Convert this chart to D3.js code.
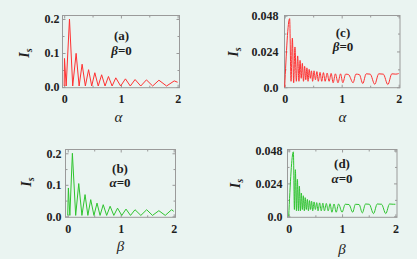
<!DOCTYPE html>
<html>
<head>
<meta charset="utf-8">
<script src="https://cdn.jsdelivr.net/npm/d3@7"></script>
<style>
  body { margin: 0; background: #eaf4f1; }
  svg { display: block; }
</style>
</head>
<body>
<div id="figure"></div>
<script>
// panel (a): I_s against alpha, beta = 0
const alphaA = [0, 0.005, 0.035, 0.093, 0.15, 0.21, 0.263, 0.316, 0.373, 0.43, 0.485, 0.54, 0.6, 0.66, 0.72, 0.78, 0.845, 0.91, 0.995, 1.08, 1.165, 1.25, 1.35, 1.45, 1.56, 1.67, 1.805, 1.94, 2.0];
const isA = [0.003, 0.084, 0.003, 0.2, 0.003, 0.099, 0.003, 0.067, 0.003, 0.051, 0.003, 0.042, 0.003, 0.036, 0.003, 0.031, 0.003, 0.027, 0.003, 0.024, 0.003, 0.022, 0.003, 0.021, 0.003, 0.02, 0.003, 0.018, 0.014];

// panel (b): I_s against beta, alpha = 0
const betaB = [0, 0.012, 0.04, 0.088, 0.15, 0.208, 0.268, 0.327, 0.38, 0.434, 0.495, 0.553, 0.61, 0.67, 0.735, 0.8, 0.87, 0.94, 1.02, 1.1, 1.185, 1.27, 1.38, 1.49, 1.6, 1.72, 1.84, 1.96, 2.0];
const isB = [0.003, 0.09, 0.003, 0.2, 0.003, 0.104, 0.003, 0.069, 0.003, 0.053, 0.003, 0.042, 0.003, 0.037, 0.003, 0.032, 0.003, 0.026, 0.003, 0.023, 0.003, 0.021, 0.003, 0.021, 0.003, 0.018, 0.003, 0.021, 0.016];

// panel (c): I_s against alpha, beta = 0
const alphaC = [0, 0.087, 0.112, 0.135, 0.158, 0.18, 0.205, 0.228, 0.25, 0.27, 0.29, 0.31, 0.33, 0.35, 0.37, 0.39, 0.41, 0.43, 0.45, 0.47, 0.49, 0.515, 0.54, 0.565, 0.59, 0.62, 0.65, 0.68, 0.71, 0.745, 0.78, 0.815, 0.85, 0.89, 0.935, 0.98, 1.02, 1.07, 1.12, 1.2, 1.25, 1.31, 1.37, 1.43, 1.5, 1.58, 1.65, 1.73, 1.81, 1.88, 1.95, 2.0];
const isC = [0, 0.046, 0.004, 0.033, 0.003, 0.027, 0.004, 0.021, 0.004, 0.018, 0.006, 0.016, 0.004, 0.014, 0.005, 0.013, 0.004, 0.012, 0.006, 0.011, 0.004, 0.011, 0.005, 0.0105, 0.004, 0.010, 0.004, 0.0098, 0.004, 0.0095, 0.004, 0.0093, 0.003, 0.009, 0.003, 0.009, 0.003, 0.0088, 0.0085, 0.003, 0.0088, 0.0085, 0.0025, 0.009, 0.0088, 0.002, 0.009, 0.0088, 0.0018, 0.009, 0.0088, 0.0092];

// panel (d): I_s against beta, alpha = 0
const betaD = [0, 0.0875, 0.107, 0.125, 0.145, 0.163, 0.182, 0.2, 0.219, 0.237, 0.256, 0.275, 0.293, 0.31, 0.33, 0.35, 0.37, 0.39, 0.41, 0.43, 0.45, 0.475, 0.5, 0.525, 0.55, 0.58, 0.61, 0.64, 0.67, 0.705, 0.74, 0.775, 0.81, 0.85, 0.89, 0.935, 1.0, 1.06, 1.13, 1.2, 1.25, 1.32, 1.38, 1.44, 1.51, 1.59, 1.66, 1.74, 1.82, 1.89, 1.96, 2.0];
const isD = [0, 0.047, 0.005, 0.034, 0.004, 0.027, 0.004, 0.022, 0.004, 0.017, 0.005, 0.015, 0.004, 0.0136, 0.005, 0.0124, 0.004, 0.0115, 0.005, 0.011, 0.004, 0.0105, 0.005, 0.010, 0.004, 0.0098, 0.004, 0.0096, 0.004, 0.0094, 0.004, 0.0092, 0.003, 0.009, 0.003, 0.009, 0.003, 0.0088, 0.0086, 0.003, 0.0088, 0.0086, 0.0025, 0.009, 0.0088, 0.002, 0.009, 0.0088, 0.002, 0.009, 0.0088, 0.0088];

// ticks and tick labels
const xTicks = [0, 1, 2];
const xTickLabels = ["0", "1", "2"];
const xMinor = [0.5, 1.5];
const yTicksAB = [0, 0.1, 0.2];
const yTickLabelsAB = ["0.0", "0.1", "0.2"];
const yMinorAB = [0.05, 0.15];
const yTicksCD = [0, 0.024, 0.048];
const yTickLabelsCD = ["0.0", "0.024", "0.048"];
const yMinorCD = [0.012, 0.036];

let svgWidth = 417;
let svgHeight = 259;
const serif = "Liberation Serif";

let svg = d3.select("#figure")
    .append("svg")
    .attr("width", svgWidth)
    .attr("height", svgHeight);

const red = "#ff3131";
const green = "#2fc42f";
const boxColor = "#9a9a9a";
const textColor = "#1e1e1e";

let panels = [
    { xs: alphaA, ys: isA, color: red, left: 62.5, top: 15.5, width: 117, height: 72.2,
      xDomain: [-0.03, 2.033], yDomain: [-0.002, 0.2103], yTicks: yTicksAB, yLabels: yTickLabelsAB, yMinor: yMinorAB,
      yPad: 3, curve: d3.curveLinear, label: "(a)", greek: "β", annX: 121.5, annY1: 39.5, annY2: 54.5,
      yLabX: 29, yLabY: 53, xName: "α", xNameX: 118.5, xNameY: 121.5 },
    { xs: betaB, ys: isB, color: green, left: 65.5, top: 149.5, width: 110, height: 67.8,
      xDomain: [-0.042, 2.034], yDomain: [-0.003, 0.212], yTicks: yTicksAB, yLabels: yTickLabelsAB, yMinor: yMinorAB,
      yPad: 4, curve: d3.curveLinear, label: "(b)", greek: "α", annX: 120, annY1: 172.5, annY2: 186.5,
      yLabX: 31, yLabY: 182, xName: "β", xNameX: 120.5, xNameY: 251 },
    { xs: alphaC, ys: isC, color: red, left: 284.5, top: 15.5, width: 115.5, height: 72.2,
      xDomain: [-0.003, 2.023], yDomain: [-0.0003, 0.0481], yTicks: yTicksCD, yLabels: yTickLabelsCD, yMinor: yMinorCD,
      yPad: 6, curve: d3.curveMonotoneX, label: "(c)", greek: "β", annX: 343, annY1: 37, annY2: 51,
      yLabX: 237.5, yLabY: 52, xName: "α", xNameX: 342.5, xNameY: 121.5 },
    { xs: betaD, ys: isD, color: green, left: 287.5, top: 149.5, width: 109.5, height: 67.8,
      xDomain: [-0.0225, 2.03], yDomain: [-0.0007, 0.0487], yTicks: yTicksCD, yLabels: yTickLabelsCD, yMinor: yMinorCD,
      yPad: 5, curve: d3.curveMonotoneX, label: "(d)", greek: "α", annX: 342, annY1: 168, annY2: 183,
      yLabX: 240, yLabY: 183.5, xName: "β", xNameX: 342, xNameY: 254 }
];

// one framed axis with inward ticks on all four sides
function drawPanel(p) {
    let x = d3.scaleLinear().domain(p.xDomain).range([0, p.width]);
    let y = d3.scaleLinear().domain(p.yDomain).range([p.height, 0]);

    let g = svg.append("g")
        .attr("transform", `translate(${p.left},${p.top})`);

    let styleAxis = a => {
        a.attr("font-family", serif).attr("font-size", 12).attr("font-weight", "bold").attr("color", boxColor);
        a.select(".domain").remove();
        a.selectAll("text").attr("fill", textColor);
    };

    // major ticks with labels
    g.append("g")
        .attr("transform", `translate(0,${p.height})`)
        .call(d3.axisBottom(x).tickValues(xTicks).tickFormat((d, i) => xTickLabels[i]).tickSize(-3).tickPadding(7))
        .call(styleAxis);
    g.append("g")
        .call(d3.axisLeft(y).tickValues(p.yTicks).tickFormat((d, i) => p.yLabels[i]).tickSize(-3).tickPadding(p.yPad))
        .call(styleAxis);
    // mirrored ticks, no labels
    g.append("g")
        .call(d3.axisTop(x).tickValues(xTicks).tickFormat("").tickSize(-3))
        .call(styleAxis);
    g.append("g")
        .attr("transform", `translate(${p.width},0)`)
        .call(d3.axisRight(y).tickValues(p.yTicks).tickFormat("").tickSize(-3))
        .call(styleAxis);
    // minor ticks
    g.append("g").attr("transform", `translate(0,${p.height})`)
        .call(d3.axisBottom(x).tickValues(xMinor).tickFormat("").tickSize(-2)).call(styleAxis);
    g.append("g")
        .call(d3.axisTop(x).tickValues(xMinor).tickFormat("").tickSize(-2)).call(styleAxis);
    g.append("g")
        .call(d3.axisLeft(y).tickValues(p.yMinor).tickFormat("").tickSize(-2)).call(styleAxis);
    g.append("g").attr("transform", `translate(${p.width},0)`)
        .call(d3.axisRight(y).tickValues(p.yMinor).tickFormat("").tickSize(-2)).call(styleAxis);

    // frame
    g.append("rect")
        .attr("width", p.width)
        .attr("height", p.height)
        .attr("fill", "none")
        .attr("stroke", boxColor)
        .attr("stroke-width", 1);

    // curve
    let line = d3.line()
        .x(d => x(d[0]))
        .y(d => y(d[1]))
        .curve(p.curve);
    g.append("path")
        .datum(d3.zip(p.xs, p.ys))
        .attr("d", line)
        .attr("fill", "none")
        .attr("stroke", p.color)
        .attr("stroke-width", 1);

    // panel annotation
    svg.append("text")
        .attr("x", p.annX).attr("y", p.annY1)
        .attr("text-anchor", "middle")
        .attr("font-family", serif).attr("font-weight", "bold")
        .attr("font-size", 13)
        .attr("fill", textColor)
        .text(p.label);
    let ann = svg.append("text")
        .attr("x", p.annX).attr("y", p.annY2)
        .attr("text-anchor", "middle")
        .attr("font-family", serif).attr("font-weight", "bold")
        .attr("font-size", 13)
        .attr("fill", textColor);
    ann.append("tspan").attr("font-style", "italic").text(p.greek);
    ann.append("tspan").text("=0");

    // y axis title I_s
    let yl = svg.append("text")
        .attr("transform", `translate(${p.yLabX},${p.yLabY}) rotate(-90)`)
        .attr("text-anchor", "middle")
        .attr("font-family", serif).attr("font-weight", "bold")
        .attr("font-style", "italic")
        .attr("font-size", 14)
        .attr("fill", textColor);
    yl.append("tspan").text("I");
    yl.append("tspan").attr("font-size", 10).attr("dy", 3).text("s");

    // x axis title
    svg.append("text")
        .attr("x", p.xNameX).attr("y", p.xNameY)
        .attr("text-anchor", "middle")
        .attr("font-family", serif)
        .attr("font-style", "italic")
        .attr("font-size", 15)
        .attr("fill", textColor)
        .text(p.xName);
}

panels.forEach(drawPanel);
</script>
</body>
</html>
